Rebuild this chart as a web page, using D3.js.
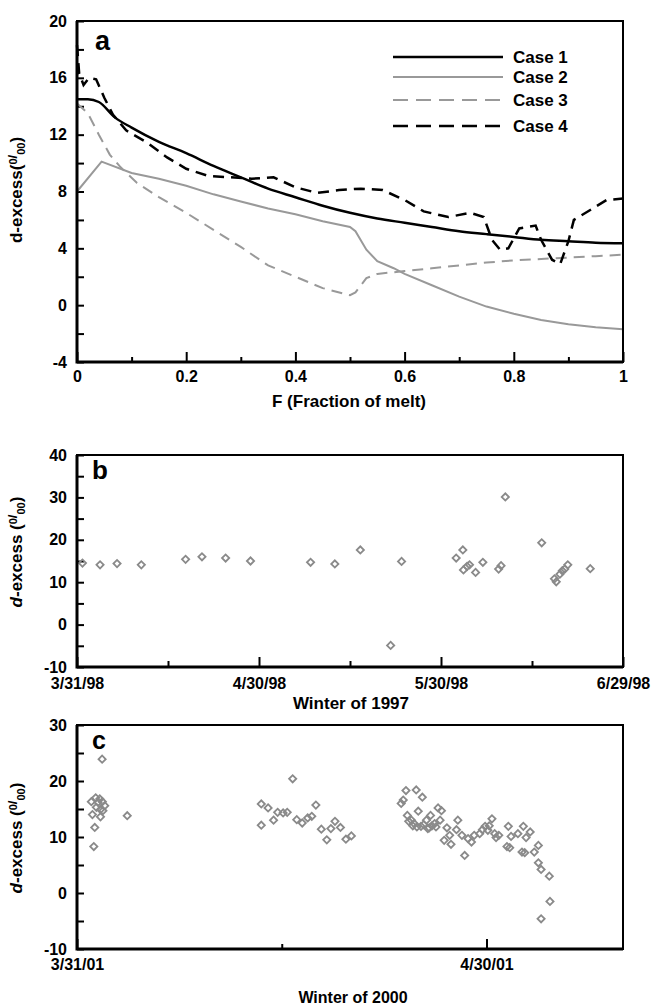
<!DOCTYPE html>
<html>
<head>
<meta charset="utf-8">
<script src="https://cdn.jsdelivr.net/npm/d3@7"></script>
<style>
body { margin: 0; background: #fff; }
text { font-family: "Liberation Sans Narrow", "Arial Narrow", "Liberation Sans", Arial, sans-serif; font-weight: bold; fill: #000; }
</style>
</head>
<body>
<svg id="fig" width="655" height="1008"></svg>
<script>
// ---- panel a: d-excess vs fraction of melt ----
const case1F = [0, 0.02, 0.04, 0.07, 0.1, 0.15, 0.2, 0.25, 0.3, 0.35, 0.4, 0.45, 0.5, 0.55, 0.6, 0.65, 0.7, 0.75, 0.8, 0.85, 0.9, 0.95, 1.0];
const case1 = [14.5, 14.5, 14.3, 13.2, 12.5, 11.5, 10.7, 9.8, 9.0, 8.2, 7.6, 7.0, 6.5, 6.1, 5.8, 5.5, 5.2, 5.0, 4.8, 4.6, 4.5, 4.4, 4.35];

const case2F = [0, 0.045, 0.1, 0.15, 0.2, 0.25, 0.3, 0.35, 0.4, 0.45, 0.5, 0.51, 0.53, 0.55, 0.58, 0.6, 0.65, 0.7, 0.75, 0.8, 0.85, 0.9, 0.95, 1.0];
const case2 = [8.0, 10.1, 9.3, 8.9, 8.4, 7.8, 7.3, 6.8, 6.4, 5.9, 5.5, 5.2, 3.9, 3.1, 2.6, 2.2, 1.4, 0.6, -0.1, -0.6, -1.05, -1.35, -1.55, -1.7];

const case3F = [0, 0.02, 0.04, 0.06, 0.08, 0.11, 0.15, 0.2, 0.25, 0.3, 0.35, 0.4, 0.45, 0.5, 0.51, 0.53, 0.55, 0.6, 0.65, 0.7, 0.75, 0.8, 0.85, 0.9, 0.95, 1.0];
const case3 = [14.2, 13.5, 12.0, 10.6, 9.7, 8.6, 7.6, 6.5, 5.3, 4.1, 2.8, 2.0, 1.2, 0.7, 0.9, 1.9, 2.2, 2.4, 2.6, 2.8, 3.0, 3.15, 3.25, 3.35, 3.45, 3.55];

const case4F = [0, 0.004, 0.012, 0.022, 0.035, 0.05, 0.066, 0.09, 0.13, 0.165, 0.2, 0.24, 0.28, 0.32, 0.36, 0.4, 0.44, 0.48, 0.52, 0.56, 0.6, 0.635, 0.68, 0.72, 0.745, 0.76, 0.775, 0.79, 0.81, 0.84, 0.85, 0.87, 0.885, 0.9, 0.91, 0.94, 0.97, 1.0];
const case4 = [18.3, 16.3, 15.5, 16.0, 15.9, 14.6, 13.4, 12.3, 11.4, 10.4, 9.6, 9.1, 9.0, 8.9, 9.0, 8.3, 7.9, 8.1, 8.2, 8.1, 7.4, 6.6, 6.2, 6.5, 6.2, 4.6, 3.9, 4.0, 5.4, 5.6, 4.6, 3.2, 2.9, 4.5, 6.0, 6.7, 7.4, 7.5];

const caseNames = ['Case 1', 'Case 2', 'Case 3', 'Case 4'];

// ---- panel b: winter 1997 (days after 3/31/98) ----
const days98 = [0.9, 3.8, 6.6, 10.6, 17.9, 20.6, 24.5, 28.6, 38.5, 42.5, 46.7, 51.7, 53.5, 62.5, 63.6, 63.7, 64.3, 64.7, 65.7, 66.9, 69.5, 69.9, 70.6, 76.6, 78.7, 79.0, 79.6, 80.0, 80.4, 80.9, 84.6];
const dex98 = [14.5, 14.1, 14.4, 14.1, 15.4, 16.0, 15.7, 15.0, 14.7, 14.3, 17.6, -4.9, 14.9, 15.7, 17.6, 12.9, 13.75, 14.1, 12.3, 14.7, 13.1, 13.9, 30.1, 19.3, 10.8, 10.1, 11.9, 12.7, 13.1, 14.1, 13.2];
const ticks98 = ['3/31/98', '4/30/98', '5/30/98', '6/29/98'];

// ---- panel c: winter 2000 (days after 3/31/01) ----
const days01 = [1.84, 1.05, 1.37, 1.67, 1.54, 1.86, 1.42, 1.72, 2.03, 1.13, 1.72, 1.30, 1.23, 1.9, 3.68,
  13.5, 14.0, 13.5, 14.4, 14.7, 15.1, 15.4, 15.8, 16.1, 16.5, 16.9, 17.2, 17.5, 17.9, 18.3, 18.6, 18.9, 19.3, 19.7, 20.1,
  23.75, 23.9, 24.1, 24.85, 25.3, 24.2, 24.5, 25.0, 24.7, 25.2, 25.6, 25.9, 25.8, 26.2, 26.45, 26.7, 26.6, 27.1, 26.9,
  24.3, 24.6, 24.9, 25.4, 25.7, 26.0, 26.3,
  27.4, 27.3, 27.9, 27.8, 28.2, 28.4, 28.65, 28.9, 29.1, 29.5, 29.9, 30.1, 30.4, 30.6, 30.7, 30.9, 29.7, 30.2,
  31.6, 31.8, 31.5, 31.7, 32.3, 32.7, 32.9, 33.2, 32.6, 32.8, 33.5, 33.8, 33.8, 34.0, 34.6, 34.0, 34.65];
const dex01 = [23.9, 16.3, 17.0, 16.8, 16.2, 16.3, 15.3, 14.9, 15.6, 14.0, 13.6, 11.7, 8.3, 14.7, 13.8,
  15.9, 15.2, 12.1, 13.0, 14.4, 14.3, 14.4, 20.4, 13.1, 12.5, 13.4, 13.7, 15.7, 11.4, 9.5, 11.5, 12.8, 11.7, 9.6, 10.2,
  16.0, 16.6, 18.3, 18.4, 17.1, 13.85, 13.0, 14.6, 12.4, 11.9, 13.0, 13.85, 11.65, 12.4, 15.2, 14.7, 13.0, 11.65, 9.4,
  12.8, 12.0, 11.8, 12.2, 11.5, 12.0, 11.8,
  8.7, 10.3, 13.0, 11.3, 10.3, 6.7, 9.7, 9.1, 10.3, 10.6, 11.9, 11.2, 13.25, 10.6, 9.9, 10.3, 11.3, 12.0,
  11.9, 10.1, 8.3, 8.1, 10.6, 11.9, 9.9, 10.9, 7.3, 7.2, 7.3, 8.5, 5.4, 4.2, 3.0, -4.6, -1.5];
const ticks01 = ['3/31/01', '4/30/01'];

const svg = d3.select('#fig');
const grey = '#999999';
const markGrey = '#8a8a8a';
const left = 77, right = 623;
const DAY = 864e5;

function drawFrame(x, y) {
    const [x0, x1] = x.range();
    const [y0, y1] = y.range();
    svg.append('rect')
        .attr('x', x0).attr('y', y1)
        .attr('width', x1 - x0).attr('height', y0 - y1)
        .attr('fill', 'none').attr('stroke', '#000').attr('stroke-width', 2);
    svg.append('path')
        .attr('d', `M${x0},${y1}V${y0}H${x1}`)
        .attr('fill', 'none').attr('stroke', '#000').attr('stroke-width', 3);
}

function styleAxis(g) {
    g.select('.domain').remove();
    g.selectAll('.tick line').attr('stroke', '#000').attr('stroke-width', 2);
    g.selectAll('.tick text').style('font-size', '16px');
}

function yTitle(cx, cy, italicD) {
    const t = svg.append('text')
        .attr('transform', `translate(${cx},${cy}) rotate(-90)`)
        .attr('text-anchor', 'middle')
        .style('font-size', '17px');
    t.append('tspan').style('font-style', italicD ? 'italic' : 'normal').text('d');
    t.append('tspan').text(italicD ? '-excess (' : '-excess(');
    t.append('tspan').attr('dy', -5).style('font-size', '11px').text('0');
    t.append('tspan').style('font-size', '13px').text('/');
    t.append('tspan').attr('dy', 8).style('font-size', '11px').text('00');
    t.append('tspan').attr('dy', -3).text(')');
}

function panelLetter(x, y, s, size) {
    svg.append('text').attr('x', x).attr('y', y).style('font-size', size + 'px').text(s);
}

// ================= panel a =================
const xA = d3.scaleLinear().domain([0, 1]).range([left, right]);
const yA = d3.scaleLinear().domain([-4, 20]).range([362, 21]);

svg.append('g').attr('transform', `translate(0,${yA(-4)})`)
    .call(d3.axisBottom(xA).tickValues(d3.range(1, 10, 2).map(d => d / 10)).tickSize(-5).tickFormat(''))
    .call(styleAxis);
svg.append('g').attr('transform', `translate(0,${yA(-4)})`)
    .call(d3.axisBottom(xA).tickValues([0, 0.2, 0.4, 0.6, 0.8, 1]).tickSize(-10).tickPadding(9)
        .tickFormat(d => (d === 0 || d === 1) ? String(d) : d.toFixed(1)))
    .call(styleAxis);
svg.append('g').attr('transform', `translate(${left},0)`)
    .call(d3.axisLeft(yA).tickValues(d3.range(-4, 21, 2)).tickSize(-7).tickPadding(10)
        .tickFormat(d => d % 4 === 0 ? d : ''))
    .call(styleAxis);

const seriesA = [
    { f: case1F, v: case1, color: '#000', width: 2.5, dash: null, curve: d3.curveMonotoneX },
    { f: case2F, v: case2, color: grey, width: 2, dash: null, curve: d3.curveLinear },
    { f: case3F, v: case3, color: grey, width: 2, dash: '11,7', curve: d3.curveLinear },
    { f: case4F, v: case4, color: '#000', width: 2.5, dash: '11,7', curve: d3.curveLinear }
];
seriesA.forEach(s => {
    const line = d3.line().x(d => xA(d[0])).y(d => yA(d[1])).curve(s.curve);
    svg.append('path')
        .datum(d3.zip(s.f, s.v))
        .attr('d', line)
        .attr('fill', 'none')
        .attr('stroke', s.color)
        .attr('stroke-width', s.width)
        .attr('stroke-dasharray', s.dash);
});

drawFrame(xA, yA);

// legend
const legY = [57, 77, 100, 126];
seriesA.forEach((s, i) => {
    svg.append('line')
        .attr('x1', 393).attr('x2', 503).attr('y1', legY[i]).attr('y2', legY[i])
        .attr('stroke', s.color).attr('stroke-width', s.width)
        .attr('stroke-dasharray', s.dash ? '15,8' : null);
    svg.append('text').attr('x', 513).attr('y', legY[i] + 6)
        .style('font-size', '17px').text(caseNames[i]);
});

panelLetter(95, 50, 'a', 27);
yTitle(22, 190, false);
svg.append('text').attr('x', 349).attr('y', 407).attr('text-anchor', 'middle')
    .style('font-size', '17px').text('F (Fraction of melt)');

// ================= panel b =================
const start98 = new Date(Date.UTC(1998, 2, 31));
const xB = d3.scaleUtc().domain([start98, d3.utcDay.offset(start98, 90)]).range([left, right]);
const yB = d3.scaleLinear().domain([-10, 40]).range([667, 455]);

svg.append('g').attr('transform', `translate(0,${yB(-10)})`)
    .call(d3.axisBottom(xB).tickValues([15, 45, 75].map(d => d3.utcDay.offset(start98, d))).tickSize(-6).tickFormat(''))
    .call(styleAxis);
svg.append('g').attr('transform', `translate(0,${yB(-10)})`)
    .call(d3.axisBottom(xB).tickValues(ticks98.map((_, i) => d3.utcDay.offset(start98, 30 * i))).tickSize(-10).tickPadding(11)
        .tickFormat((d, i) => ticks98[i]))
    .call(styleAxis);
svg.append('g').attr('transform', `translate(${left},0)`)
    .call(d3.axisLeft(yB).tickValues(d3.range(-10, 41, 5)).tickSize(-7).tickPadding(10)
        .tickFormat(d => d % 10 === 0 ? d : ''))
    .call(styleAxis);

const diamond = d3.symbol().type(d3.symbolSquare).size(26);
svg.append('g').selectAll('path')
    .data(d3.zip(days98, dex98))
    .join('path')
    .attr('d', diamond)
    .attr('transform', d => `translate(${xB(new Date(+start98 + d[0] * DAY))},${yB(d[1])}) rotate(45)`)
    .attr('fill', 'none').attr('stroke', markGrey).attr('stroke-width', 1.8);

drawFrame(xB, yB);
panelLetter(92, 479, 'b', 26);
yTitle(22, 552, true);
svg.append('text').attr('x', 351).attr('y', 709).attr('text-anchor', 'middle')
    .style('font-size', '17px').text('Winter of 1997');

// ================= panel c =================
const start01 = new Date(Date.UTC(2001, 2, 31));
const xC = d3.scaleUtc().domain([start01, d3.utcDay.offset(start01, 40)]).range([left, right]);
const yC = d3.scaleLinear().domain([-10, 30]).range([949, 725]);

svg.append('g').attr('transform', `translate(0,${yC(-10)})`)
    .call(d3.axisBottom(xC).tickValues([d3.utcDay.offset(start01, 15)]).tickSize(-5).tickFormat(''))
    .call(styleAxis);
svg.append('g').attr('transform', `translate(0,${yC(-10)})`)
    .call(d3.axisBottom(xC).tickValues(ticks01.map((_, i) => d3.utcDay.offset(start01, 30 * i))).tickSize(-10).tickPadding(10)
        .tickFormat((d, i) => ticks01[i]))
    .call(styleAxis);
svg.append('g').attr('transform', `translate(${left},0)`)
    .call(d3.axisLeft(yC).tickValues(d3.range(-10, 31, 5)).tickSize(-7).tickPadding(10)
        .tickFormat(d => d % 10 === 0 ? d : ''))
    .call(styleAxis);

svg.append('g').selectAll('path')
    .data(d3.zip(days01, dex01))
    .join('path')
    .attr('d', diamond)
    .attr('transform', d => `translate(${xC(new Date(+start01 + d[0] * DAY))},${yC(d[1])}) rotate(45)`)
    .attr('fill', 'none').attr('stroke', markGrey).attr('stroke-width', 1.8);

drawFrame(xC, yC);
panelLetter(92, 749, 'c', 25);
yTitle(22, 838, true);
svg.append('text').attr('x', 353).attr('y', 1003).attr('text-anchor', 'middle')
    .style('font-size', '16px').text('Winter of 2000');
</script>
</body>
</html>
